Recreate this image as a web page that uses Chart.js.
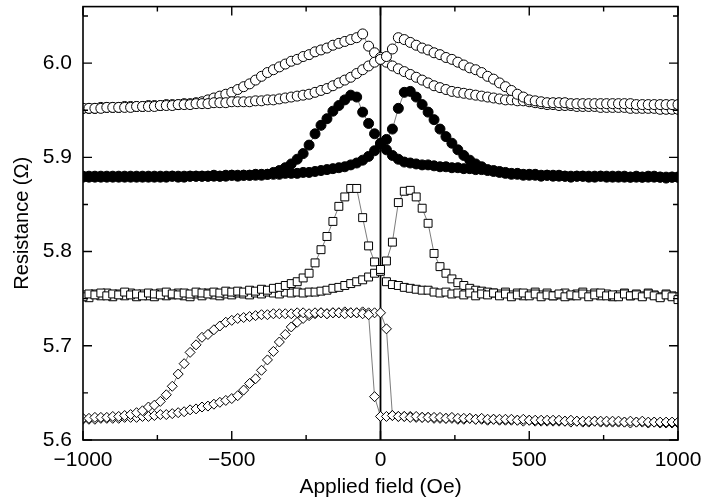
<!DOCTYPE html>
<html lang="en">
<head>
<meta charset="UTF-8">
<title>Resistance vs applied field</title>
<style>
  body { margin: 0; background: #fff; }
  #wrap { width: 701px; height: 503px; }
</style>
</head>
<body>
<div id="wrap"><canvas id="mrChart" width="701" height="503"></canvas></div>
<script src="https://cdn.jsdelivr.net/npm/chart.js"></script>
<script>
// applied field grid (Oe), shared by every branch
const field = [
  -1000, -980, -960, -940, -920, -900, -880, -860, -840, -820,
  -800, -780, -760, -740, -720, -700, -680, -660, -640, -620,
  -600, -580, -560, -540, -520, -500, -480, -460, -440, -420,
  -400, -380, -360, -340, -320, -300, -280, -260, -240, -220,
  -200, -180, -160, -140, -120, -100, -80, -60, -40, -20,
  0, 20, 40, 60, 80, 100, 120, 140, 160, 180,
  200, 220, 240, 260, 280, 300, 320, 340, 360, 380,
  400, 420, 440, 460, 480, 500, 520, 540, 560, 580,
  600, 620, 640, 660, 680, 700, 720, 740, 760, 780,
  800, 820, 840, 860, 880, 900, 920, 940, 960, 980,
  1000
];

// open circles
const openUp = [
  5.952, 5.952, 5.952, 5.952, 5.953, 5.953, 5.953, 5.953, 5.953, 5.954,
  5.954, 5.954, 5.954, 5.955, 5.955, 5.955, 5.956, 5.956, 5.956, 5.957,
  5.957, 5.957, 5.958, 5.958, 5.958, 5.959, 5.959, 5.959, 5.959, 5.960,
  5.960, 5.961, 5.961, 5.962, 5.963, 5.964, 5.965, 5.966, 5.967, 5.969,
  5.971, 5.973, 5.976, 5.979, 5.982, 5.985, 5.989, 5.993, 5.997, 6.001,
  6.004, 6.007, 6.015, 6.027, 6.025, 6.022, 6.019, 6.016, 6.014, 6.011,
  6.009, 6.006, 6.004, 6.001, 5.998, 5.995, 5.993, 5.990, 5.986, 5.983,
  5.979, 5.975, 5.971, 5.967, 5.964, 5.961, 5.960, 5.959, 5.958, 5.958,
  5.958, 5.958, 5.957, 5.957, 5.957, 5.957, 5.957, 5.957, 5.957, 5.957,
  5.957, 5.957, 5.957, 5.956, 5.956, 5.956, 5.956, 5.956, 5.956, 5.956,
  5.956
];
const openDown = [
  5.952, 5.952, 5.952, 5.953, 5.953, 5.953, 5.953, 5.954, 5.954, 5.954,
  5.954, 5.955, 5.955, 5.955, 5.956, 5.956, 5.956, 5.957, 5.957, 5.958,
  5.959, 5.961, 5.963, 5.965, 5.967, 5.969, 5.972, 5.975, 5.978, 5.982,
  5.986, 5.990, 5.993, 5.996, 5.999, 6.002, 6.004, 6.007, 6.009, 6.012,
  6.014, 6.016, 6.019, 6.021, 6.023, 6.025, 6.027, 6.031, 6.018, 6.011,
  6.006, 6.001, 5.997, 5.994, 5.991, 5.988, 5.985, 5.982, 5.979, 5.976,
  5.974, 5.972, 5.970, 5.969, 5.968, 5.967, 5.966, 5.965, 5.964, 5.963,
  5.962, 5.961, 5.961, 5.960, 5.960, 5.959, 5.958, 5.957, 5.956, 5.956,
  5.955, 5.955, 5.955, 5.954, 5.954, 5.954, 5.954, 5.953, 5.953, 5.953,
  5.953, 5.953, 5.952, 5.952, 5.952, 5.952, 5.952, 5.951, 5.951, 5.951,
  5.951
];

// filled circles
const filledDown = [
  5.879, 5.880, 5.879, 5.879, 5.880, 5.879, 5.880, 5.879, 5.879, 5.880,
  5.879, 5.880, 5.879, 5.880, 5.879, 5.880, 5.880, 5.879, 5.880, 5.880,
  5.880, 5.880, 5.880, 5.880, 5.880, 5.881, 5.880, 5.881, 5.881, 5.881,
  5.881, 5.882, 5.884, 5.886, 5.889, 5.893, 5.898, 5.904, 5.913, 5.925,
  5.934, 5.941, 5.949, 5.955, 5.961, 5.966, 5.964, 5.948, 5.936, 5.925,
  5.915, 5.908, 5.902, 5.898, 5.895, 5.894, 5.893, 5.892, 5.892, 5.891,
  5.890, 5.890, 5.889, 5.889, 5.888, 5.888, 5.887, 5.887, 5.886, 5.886,
  5.885, 5.884, 5.883, 5.883, 5.882, 5.882, 5.882, 5.881, 5.881, 5.881,
  5.881, 5.880, 5.880, 5.880, 5.880, 5.880, 5.879, 5.880, 5.880, 5.879,
  5.879, 5.880, 5.879, 5.879, 5.879, 5.880, 5.879, 5.879, 5.878, 5.879,
  5.879
];
const filledUp = [
  5.880, 5.879, 5.880, 5.880, 5.879, 5.880, 5.879, 5.880, 5.880, 5.879,
  5.880, 5.879, 5.880, 5.879, 5.880, 5.880, 5.879, 5.880, 5.880, 5.880,
  5.880, 5.880, 5.881, 5.880, 5.881, 5.881, 5.881, 5.881, 5.881, 5.882,
  5.882, 5.882, 5.882, 5.882, 5.883, 5.883, 5.883, 5.884, 5.884, 5.885,
  5.886, 5.887, 5.888, 5.889, 5.890, 5.892, 5.894, 5.897, 5.901, 5.907,
  5.914, 5.919, 5.930, 5.952, 5.969, 5.970, 5.964, 5.956, 5.948, 5.940,
  5.930, 5.922, 5.915, 5.908, 5.902, 5.897, 5.893, 5.890, 5.887, 5.885,
  5.884, 5.883, 5.882, 5.882, 5.881, 5.881, 5.881, 5.880, 5.881, 5.880,
  5.880, 5.880, 5.879, 5.880, 5.880, 5.879, 5.880, 5.880, 5.879, 5.880,
  5.880, 5.879, 5.879, 5.880, 5.879, 5.879, 5.880, 5.879, 5.879, 5.879,
  5.879
];

// open squares
const squareLeftPeak = [
  5.752, 5.755, 5.754, 5.756, 5.753, 5.755, 5.754, 5.757, 5.754, 5.755,
  5.753, 5.756, 5.755, 5.754, 5.757, 5.755, 5.754, 5.756, 5.755, 5.757,
  5.756, 5.755, 5.757, 5.756, 5.758, 5.757, 5.758, 5.757, 5.759, 5.758,
  5.760, 5.759, 5.761, 5.762, 5.764, 5.766, 5.768, 5.772, 5.777, 5.788,
  5.802, 5.816, 5.832, 5.848, 5.858, 5.867, 5.867, 5.836, 5.806, 5.789,
  5.781, 5.768, 5.765, 5.764, 5.762, 5.761, 5.760, 5.759, 5.759, 5.757,
  5.756, 5.757, 5.755, 5.756, 5.754, 5.756, 5.753, 5.755, 5.754, 5.756,
  5.753, 5.755, 5.752, 5.754, 5.756, 5.753, 5.755, 5.752, 5.754, 5.753,
  5.755, 5.752, 5.754, 5.753, 5.755, 5.752, 5.754, 5.756, 5.753, 5.754,
  5.752, 5.755, 5.753, 5.754, 5.752, 5.755, 5.753, 5.751, 5.754, 5.752,
  5.749
];
const squareRightPeak = [
  5.754, 5.751, 5.755, 5.753, 5.756, 5.752, 5.755, 5.753, 5.756, 5.752,
  5.755, 5.753, 5.752, 5.756, 5.753, 5.754, 5.756, 5.753, 5.752, 5.755,
  5.753, 5.756, 5.754, 5.753, 5.755, 5.754, 5.756, 5.755, 5.754, 5.756,
  5.755, 5.757, 5.756, 5.755, 5.757, 5.756, 5.757, 5.756, 5.757, 5.757,
  5.758, 5.759, 5.761, 5.762, 5.764, 5.766, 5.768, 5.770, 5.773, 5.777,
  5.779, 5.790, 5.810, 5.852, 5.864, 5.865, 5.858, 5.846, 5.830, 5.798,
  5.784, 5.777, 5.771, 5.767, 5.764, 5.761, 5.759, 5.758, 5.757, 5.756,
  5.755, 5.757, 5.754, 5.756, 5.753, 5.755, 5.757, 5.754, 5.756, 5.753,
  5.754, 5.756, 5.753, 5.755, 5.757, 5.754, 5.756, 5.753, 5.755, 5.752,
  5.754, 5.756, 5.753, 5.755, 5.753, 5.756, 5.754, 5.752, 5.755, 5.753,
  5.752
];

// open diamonds
const diamondLeftStep = [
  5.623, 5.623, 5.624, 5.624, 5.624, 5.625, 5.625, 5.626, 5.627, 5.629,
  5.631, 5.635, 5.637, 5.641, 5.648, 5.657, 5.670, 5.681, 5.693, 5.701,
  5.709, 5.712, 5.717, 5.721, 5.725, 5.727, 5.729, 5.730, 5.731, 5.732,
  5.733, 5.733, 5.734, 5.734, 5.734, 5.734, 5.735, 5.735, 5.734, 5.735,
  5.735, 5.734, 5.735, 5.735, 5.734, 5.735, 5.735, 5.734, 5.733, 5.646,
  5.625, 5.625, 5.626, 5.625, 5.625, 5.624, 5.625, 5.624, 5.624, 5.624,
  5.624, 5.623, 5.624, 5.623, 5.623, 5.623, 5.622, 5.623, 5.622, 5.622,
  5.622, 5.622, 5.622, 5.621, 5.622, 5.621, 5.621, 5.621, 5.621, 5.621,
  5.621, 5.620, 5.621, 5.620, 5.620, 5.620, 5.620, 5.620, 5.620, 5.620,
  5.620, 5.619, 5.620, 5.619, 5.620, 5.619, 5.619, 5.619, 5.619, 5.619,
  5.619
];
const diamondRightStep = [
  5.622, 5.622, 5.622, 5.623, 5.623, 5.623, 5.623, 5.624, 5.624, 5.624,
  5.625, 5.625, 5.626, 5.627, 5.627, 5.628, 5.629, 5.630, 5.632, 5.633,
  5.635, 5.636, 5.638, 5.640, 5.642, 5.644, 5.647, 5.653, 5.660, 5.665,
  5.674, 5.685, 5.694, 5.704, 5.712, 5.720, 5.725, 5.729, 5.732, 5.734,
  5.735, 5.734, 5.735, 5.735, 5.736, 5.735, 5.735, 5.736, 5.735, 5.735,
  5.735, 5.718, 5.626, 5.625, 5.625, 5.625, 5.624, 5.624, 5.624, 5.623,
  5.623, 5.623, 5.623, 5.622, 5.622, 5.623, 5.622, 5.622, 5.621, 5.622,
  5.621, 5.621, 5.621, 5.621, 5.620, 5.621, 5.620, 5.620, 5.620, 5.620,
  5.620, 5.620, 5.619, 5.620, 5.619, 5.619, 5.620, 5.619, 5.619, 5.619,
  5.619, 5.619, 5.618, 5.619, 5.619, 5.618, 5.619, 5.618, 5.618, 5.618,
  5.618
];

const xTicks = [-1000, -500, 0, 500, 1000];
const xMinor = [-750, -250, 250, 750];
const yTicks = [5.6, 5.7, 5.8, 5.9, 6.0];
const yMinor = [5.65, 5.75, 5.85, 5.95, 6.05];

function pts(ys) {
    return field.map((x, i) => ({ x: x, y: ys[i] }));
}

function branch(ys, style, radius, fill) {
    return {
        data: pts(ys),
        showLine: true,
        borderColor: '#444',
        borderWidth: 0.7,
        pointStyle: style,
        pointRadius: radius,
        pointBackgroundColor: fill,
        pointBorderColor: '#000',
        pointBorderWidth: 1
    };
}

const FONT = "'Liberation Sans', Arial, Helvetica, sans-serif";

// zero line, frame and inward ticks
const framePlugin = {
    id: 'framePlugin',
    beforeDatasetsDraw(chart) {
        const { ctx, chartArea: a, scales: { x } } = chart;
        const x0 = x.getPixelForValue(0);
        ctx.save();
        ctx.strokeStyle = '#000';
        ctx.lineWidth = 1.8;
        ctx.beginPath();
        ctx.moveTo(x0, a.top);
        ctx.lineTo(x0, a.bottom);
        ctx.stroke();
        ctx.restore();
    },
    afterDatasetsDraw(chart) {
        const { ctx, chartArea: a, scales: { x, y } } = chart;
        ctx.save();
        ctx.strokeStyle = '#000';
        ctx.lineWidth = 1.6;
        ctx.strokeRect(a.left, a.top, a.right - a.left, a.bottom - a.top);
        ctx.lineWidth = 1.4;
        ctx.beginPath();
        const xt = (v, len) => {
            const px = x.getPixelForValue(v);
            ctx.moveTo(px, a.bottom); ctx.lineTo(px, a.bottom - len);
            ctx.moveTo(px, a.top); ctx.lineTo(px, a.top + len);
        };
        const yt = (v, len) => {
            const py = y.getPixelForValue(v);
            ctx.moveTo(a.left, py); ctx.lineTo(a.left + len, py);
            ctx.moveTo(a.right, py); ctx.lineTo(a.right - len, py);
        };
        xTicks.forEach(v => xt(v, 9));
        xMinor.forEach(v => xt(v, 5));
        yTicks.forEach(v => yt(v, 9));
        yMinor.forEach(v => yt(v, 5));
        ctx.stroke();
        ctx.restore();
    }
};

const ctx = document.getElementById('mrChart').getContext('2d');
new Chart(ctx, {
    type: 'scatter',
    data: {
        datasets: [
            branch(openUp, 'circle', 5, '#fff'),
            branch(openDown, 'circle', 5, '#fff'),
            branch(filledUp, 'circle', 5, '#000'),
            branch(filledDown, 'circle', 5, '#000'),
            branch(squareLeftPeak, 'rect', 5.6, '#fff'),
            branch(squareRightPeak, 'rect', 5.6, '#fff'),
            branch(diamondLeftStep, 'rectRot', 5, '#fff'),
            branch(diamondRightStep, 'rectRot', 5, '#fff')
        ]
    },
    options: {
        responsive: false,
        animation: false,
        devicePixelRatio: 1,
        layout: { padding: { top: 5, right: 23, left: 0, bottom: 0 } },
        plugins: {
            legend: { display: false },
            tooltip: { enabled: false }
        },
        scales: {
            x: {
                type: 'linear',
                min: -1000,
                max: 1000,
                afterBuildTicks: s => { s.ticks = xTicks.map(v => ({ value: v })); },
                afterFit: s => { s.height = 63; s.paddingLeft = 0; s.paddingRight = 0; },
                grid: { display: false, drawTicks: false },
                border: { display: false },
                ticks: {
                    padding: 8,
                    color: '#000',
                    font: { family: FONT, size: 21 },
                    maxRotation: 0,
                    callback: v => String(v).replace('-', '\u2212')
                },
                title: {
                    display: true,
                    text: 'Applied field (Oe)',
                    color: '#000',
                    font: { family: FONT, size: 21 },
                    padding: { top: 0, bottom: 3 }
                }
            },
            y: {
                type: 'linear',
                min: 5.6,
                max: 6.06,
                afterBuildTicks: s => { s.ticks = yTicks.map(v => ({ value: v })); },
                afterFit: s => { s.width = 83; s.paddingTop = 0; s.paddingBottom = 0; },
                grid: { display: false, drawTicks: false },
                border: { display: false },
                ticks: {
                    padding: 11,
                    color: '#000',
                    font: { family: FONT, size: 21 },
                    callback: v => v.toFixed(1)
                },
                title: {
                    display: true,
                    text: 'Resistance (\u03A9)',
                    color: '#000',
                    font: { family: FONT, size: 20 },
                    padding: { top: 10, bottom: 0 }
                }
            }
        }
    },
    plugins: [framePlugin]
});
</script>
</body>
</html>
